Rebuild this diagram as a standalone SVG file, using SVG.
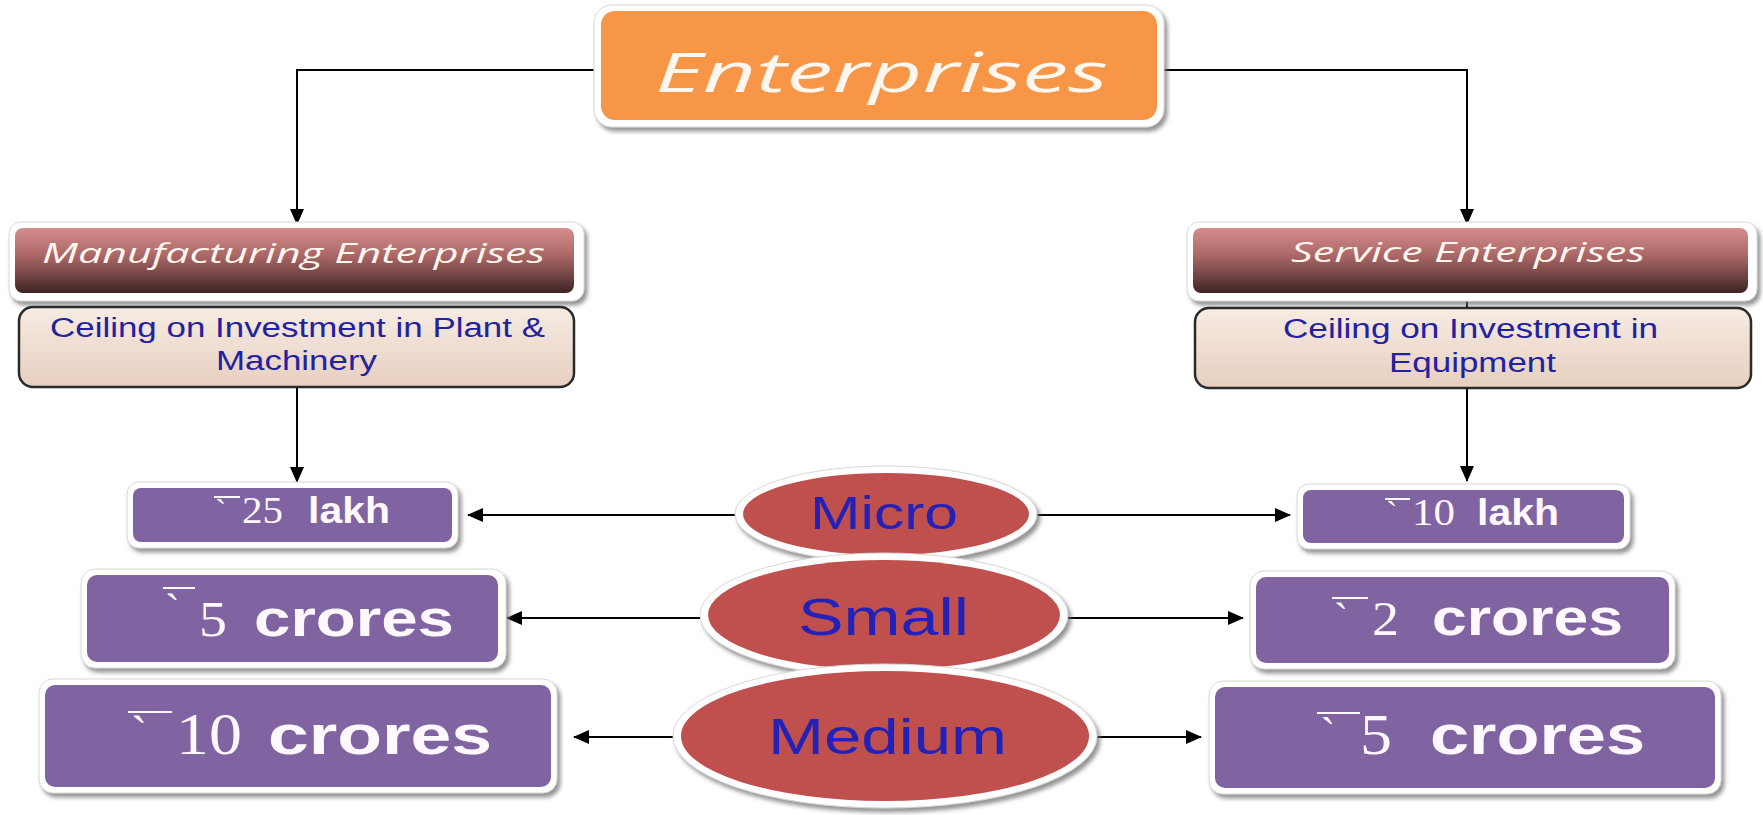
<svg xmlns="http://www.w3.org/2000/svg" width="1763" height="815" viewBox="0 0 1763 815">
<defs>
<style>
.conn{stroke:#000;stroke-width:2;fill:none}
.arr{marker-end:url(#ah)}
.halo{fill:#fff;stroke:#d8d8d8;stroke-width:1;filter:url(#sh)}
.purple{fill:#8064A2}
.red{fill:#C0504D}
.ceil{fill:url(#gCeil);stroke:#2a2a2a;stroke-width:2.5}
.hdr{fill:url(#gHdr)}
.it{font-family:"Open Sans","Noto Sans",sans-serif;font-style:italic;fill:#FFF6EE}
.ct{font-family:"Liberation Sans",Arial,sans-serif;font-size:27px;fill:#2222A0}
.el{font-family:"Liberation Sans",Arial,sans-serif;fill:#2222B8}
.b{font-family:"Liberation Sans",Arial,sans-serif;font-weight:bold;fill:#FFF8FF}
.s{font-family:"Liberation Serif","Times New Roman",serif;fill:#FFF8FF}
.ol{stroke:#FFF8FF;stroke-width:2}
</style>
<filter id="sh" x="-10%" y="-20%" width="120%" height="150%">
<feDropShadow dx="3" dy="4" stdDeviation="2" flood-color="#6f6f6f" flood-opacity="0.75"/>
</filter>
<linearGradient id="gHdr" x1="0" y1="0" x2="0" y2="1">
<stop offset="0" stop-color="#D58E8D"/>
<stop offset="0.45" stop-color="#A86464"/>
<stop offset="1" stop-color="#3E2424"/>
</linearGradient>
<linearGradient id="gCeil" x1="0" y1="0" x2="0" y2="1">
<stop offset="0" stop-color="#F7ECE3"/>
<stop offset="1" stop-color="#E6CFBF"/>
</linearGradient>
<marker id="ah" markerWidth="16" markerHeight="14" refX="15" refY="7" orient="auto" markerUnits="userSpaceOnUse">
<path d="M0,0 L16,7 L0,14 z" fill="#000"/>
</marker>
</defs>
<rect width="1763" height="815" fill="#fff"/>

<g id="connectors">
<path class="conn arr" d="M600,70 H297 V224"/>
<path class="conn arr" d="M1158,70 H1467 V224"/>
<path class="conn" d="M1467,296 V308"/>
<path class="conn arr" d="M297,388 V482"/>
<path class="conn arr" d="M1467,388 V481"/>
<path class="conn arr" d="M745,515 H468"/>
<path class="conn arr" d="M1028,515 H1290"/>
<path class="conn arr" d="M708,618 H507"/>
<path class="conn arr" d="M1058,618 H1243"/>
<path class="conn arr" d="M682,737 H574"/>
<path class="conn arr" d="M1088,737 H1201"/>
</g>

<g id="enterprises">
<rect class="halo" x="594" y="5" width="570" height="122" rx="18"/>
<rect x="601" y="11" width="556" height="109" rx="14" fill="#F79646"/>
<text class="it" x="655" y="92" font-size="54" textLength="453" lengthAdjust="spacingAndGlyphs">Enterprises</text>
</g>

<g id="manufacturing">
<rect class="halo" x="9" y="222" width="575" height="79" rx="12"/>
<rect class="hdr" x="15" y="228" width="559" height="65" rx="8"/>
<text class="it" x="42" y="263" font-size="27" textLength="503" lengthAdjust="spacingAndGlyphs">Manufacturing Enterprises</text>
</g>

<g id="mfg-ceiling">
<rect class="ceil" x="19" y="307" width="555" height="80" rx="14"/>
<text class="ct" x="50" y="337" textLength="495" lengthAdjust="spacingAndGlyphs">Ceiling on Investment in Plant &amp;</text>
<text class="ct" x="216" y="370" textLength="161" lengthAdjust="spacingAndGlyphs">Machinery</text>
</g>

<g id="service">
<rect class="halo" x="1187" y="222" width="570" height="79" rx="12"/>
<rect class="hdr" x="1193" y="228" width="555" height="65" rx="8"/>
<text class="it" x="1291" y="262" font-size="27" textLength="354" lengthAdjust="spacingAndGlyphs">Service Enterprises</text>
</g>

<g id="svc-ceiling">
<rect class="ceil" x="1195" y="308" width="556" height="80" rx="14"/>
<text class="ct" x="1283" y="338" textLength="375" lengthAdjust="spacingAndGlyphs">Ceiling on Investment in</text>
<text class="ct" x="1389" y="372" textLength="167" lengthAdjust="spacingAndGlyphs">Equipment</text>
</g>

<g id="micro">
<ellipse class="halo" cx="886" cy="514" rx="151" ry="48"/>
<ellipse class="red" cx="886" cy="514" rx="143" ry="41"/>
<text class="el" x="810" y="529" font-size="46" textLength="148" lengthAdjust="spacingAndGlyphs">Micro</text>
</g>

<g id="small">
<ellipse class="halo" cx="884" cy="615" rx="184" ry="62"/>
<ellipse class="red" cx="884" cy="615" rx="176" ry="55"/>
<text class="el" x="798" y="635" font-size="52" textLength="171" lengthAdjust="spacingAndGlyphs">Small</text>
</g>

<g id="medium">
<ellipse class="halo" cx="885" cy="736" rx="212" ry="72"/>
<ellipse class="red" cx="885" cy="736" rx="204" ry="65"/>
<text class="el" x="768" y="754" font-size="50" textLength="239" lengthAdjust="spacingAndGlyphs">Medium</text>
</g>

<g id="mfg-micro">
<rect class="halo" x="127" y="482" width="331" height="66" rx="12"/>
<rect class="purple" x="133" y="488" width="319" height="54" rx="8"/>
<line class="ol" x1="214" y1="497" x2="240" y2="497"/>
<text class="s" x="215" y="523" font-size="34">`</text>
<text class="s" x="242" y="523" font-size="38" textLength="41" lengthAdjust="spacingAndGlyphs">25</text>
<text class="b" x="308" y="523" font-size="36" textLength="82" lengthAdjust="spacingAndGlyphs">lakh</text>
</g>

<g id="mfg-small">
<rect class="halo" x="81" y="569" width="425" height="99" rx="14"/>
<rect class="purple" x="87" y="575" width="411" height="87" rx="10"/>
<line class="ol" x1="163" y1="588" x2="195" y2="588"/>
<text class="s" x="165" y="624" font-size="44">`</text>
<text class="s" x="199" y="636" font-size="50" textLength="28" lengthAdjust="spacingAndGlyphs">5</text>
<text class="b" x="254" y="636" font-size="52" textLength="200" lengthAdjust="spacingAndGlyphs">crores</text>
</g>

<g id="mfg-medium">
<rect class="halo" x="39" y="679" width="518" height="114" rx="14"/>
<rect class="purple" x="45" y="685" width="506" height="102" rx="10"/>
<line class="ol" x1="128" y1="712" x2="172" y2="712"/>
<text class="s" x="131" y="750" font-size="48">`</text>
<text class="s" x="176" y="754" font-size="60" textLength="66" lengthAdjust="spacingAndGlyphs">10</text>
<text class="b" x="268" y="754" font-size="56" textLength="224" lengthAdjust="spacingAndGlyphs">crores</text>
</g>

<g id="svc-micro">
<rect class="halo" x="1297" y="484" width="333" height="65" rx="12"/>
<rect class="purple" x="1303" y="490" width="321" height="53" rx="8"/>
<line class="ol" x1="1385" y1="499" x2="1410" y2="499"/>
<text class="s" x="1386" y="525" font-size="34">`</text>
<text class="s" x="1412" y="525" font-size="38" textLength="43" lengthAdjust="spacingAndGlyphs">10</text>
<text class="b" x="1477" y="525" font-size="36" textLength="82" lengthAdjust="spacingAndGlyphs">lakh</text>
</g>

<g id="svc-small">
<rect class="halo" x="1250" y="571" width="425" height="98" rx="14"/>
<rect class="purple" x="1256" y="577" width="413" height="86" rx="10"/>
<line class="ol" x1="1332" y1="598" x2="1368" y2="598"/>
<text class="s" x="1334" y="632" font-size="42">`</text>
<text class="s" x="1372" y="635" font-size="48" textLength="27" lengthAdjust="spacingAndGlyphs">2</text>
<text class="b" x="1432" y="635" font-size="52" textLength="191" lengthAdjust="spacingAndGlyphs">crores</text>
</g>

<g id="svc-medium">
<rect class="halo" x="1209" y="681" width="512" height="113" rx="14"/>
<rect class="purple" x="1215" y="687" width="500" height="101" rx="10"/>
<line class="ol" x1="1317" y1="713" x2="1360" y2="713"/>
<text class="s" x="1320" y="750" font-size="46">`</text>
<text class="s" x="1360" y="754" font-size="56" textLength="32" lengthAdjust="spacingAndGlyphs">5</text>
<text class="b" x="1430" y="754" font-size="56" textLength="215" lengthAdjust="spacingAndGlyphs">crores</text>
</g>
</svg>
